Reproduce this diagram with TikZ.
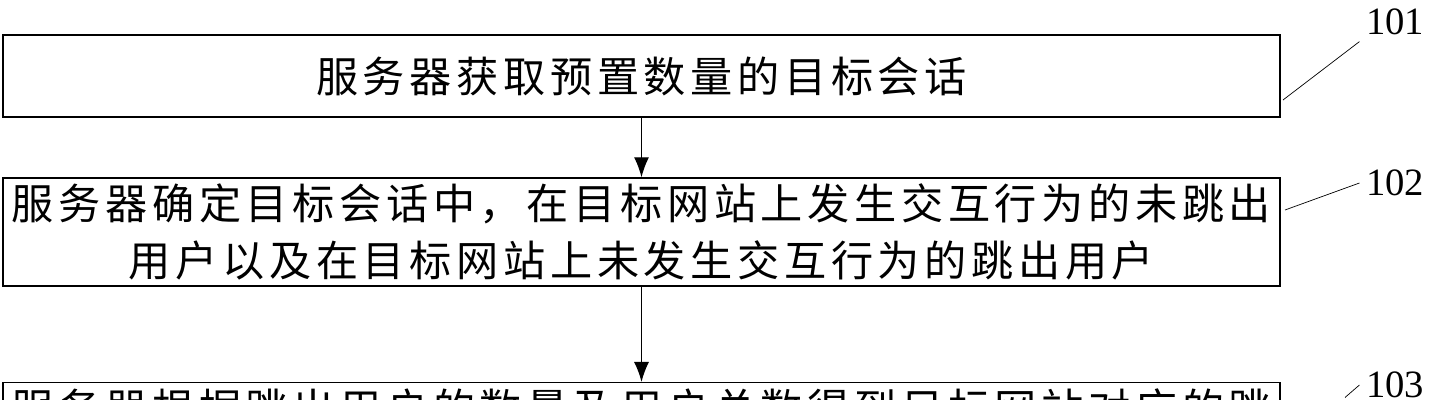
\documentclass[tikz,border=0pt]{standalone}
\usepackage{fontspec}
\setmainfont{Liberation Serif}
\newfontfamily\cjk[LetterSpace=11]{Noto Sans CJK SC}
\usetikzlibrary{positioning,arrows.meta}
\begin{document}
\begin{tikzpicture}[thick,
                    step box/.style={draw,rectangle,minimum width=25.54cm,align=center,font=\cjk\fontsize{24}{32}\selectfont,inner sep=0pt},
                    tag/.style={font=\fontsize{22}{24}\selectfont}]

          \useasboundingbox (0,0) rectangle (28.62,8);
          \clip (0,0) rectangle (28.62,8);

          \node[step box,minimum height=1.64cm] (s1) at (12.83,6.48) {服务器获取预置数量的目标会话};
          \node[step box,minimum height=2.16cm] (s2) at (12.83,3.36) {服务器确定目标会话中，在目标网站上发生交互行为的未跳出\\用户以及在目标网站上未发生交互行为的跳出用户};
          \node[step box,minimum height=2.16cm,anchor=north] (s3) at (12.83,0.36) {服务器根据跳出用户的数量及用户总数得到目标网站对应的跳\\出率};

          \node[tag] (t1) at (27.9,7.56) {101};
          \node[tag] (t2) at (27.9,4.34) {102};
          \node[tag] (t3) at (27.9,0.3) {103};

          \coordinate (c1) at (25.66,6.0);
          \coordinate (c2) at (25.7,3.8);
          \coordinate (c3) at (26.9,0.05);

          \draw[-{Latex[length=4mm,width=3mm]}] (s1) -- (s2);
          \draw[-{Latex[length=4mm,width=3mm]}] (s2) -- (s3);

          \draw[thin] (c1) -- (t1.south west);
          \draw[thin] (c2) -- (t2.west);
          \draw[thin] (c3) -- (t3.west);

        \end{tikzpicture}
\end{document}
